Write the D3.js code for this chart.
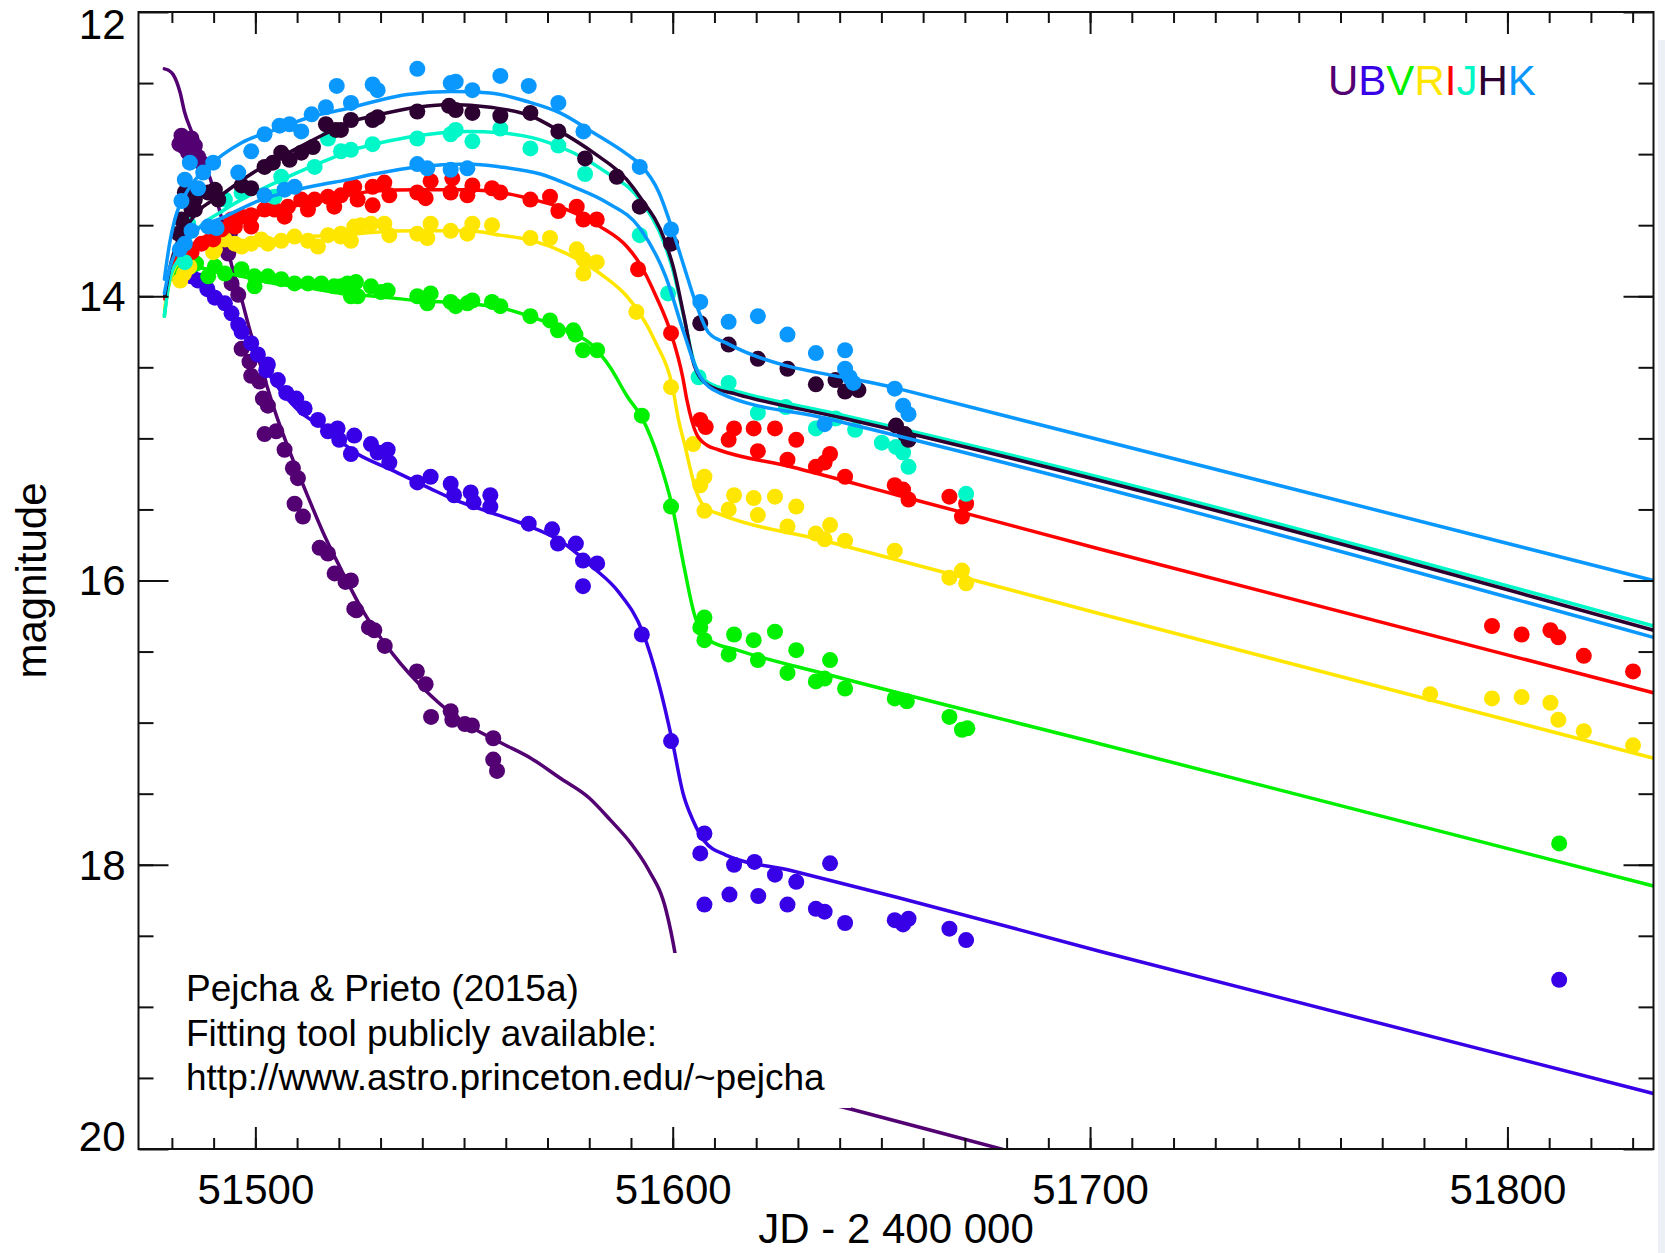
<!DOCTYPE html>
<html>
<head>
<meta charset="utf-8">
<script src="https://cdn.jsdelivr.net/npm/d3@7"></script>
<style>
  body { margin: 0; background: #fff; }
  svg { display: block; }
  text { font-family: "Liberation Sans", Arial, Helvetica, sans-serif; fill: #000; }
</style>
</head>
<body>
<svg id="chart" width="1665" height="1253"></svg>
<script>
// ---------------- DATA ----------------
const bandNames = ["U", "B", "V", "R", "I", "J", "H", "K"];
const bandColors = { U: "#530073", B: "#3700E6", V: "#00F000", R: "#FFE600", I: "#FF0000", J: "#00F8C8", H: "#2C0030", K: "#0A98FF" };

const xDomain = [51472, 51835];
const yDomain = [12, 20];
const xMajorTicks = [51500, 51600, 51700, 51800];
const xMinorTicks = [51480,51490,51500,51510,51520,51530,51540,51550,51560,51570,51580,51590,51600,51610,51620,51630,51640,51650,51660,51670,51680,51690,51700,51710,51720,51730,51740,51750,51760,51770,51780,51790,51800,51810,51820,51830];
const yMajorTicks = [12, 14, 16, 18, 20];
const yMinorTicks = [12.5,13,13.5,14,14.5,15,15.5,16,16.5,17,17.5,18,18.5,19,19.5];

const xTitle = "JD - 2 400 000";
const yTitle = "magnitude";
const noteLines = ["Pejcha & Prieto (2015a)", "Fitting tool publicly available:", "http://www.astro.princeton.edu/~pejcha"];

// observed points [JD-2400000, mag]
const U_points = [[51481.8,12.93],[51482.3,12.87],[51483.0,12.95],[51483.9,12.99],[51484.7,12.89],[51485.5,12.94],[51486.3,13.02],[51487.1,13.06],[51493.5,13.70],[51493.9,13.56],[51493.9,13.65],[51494.3,13.91],[51495.9,13.99],[51496.7,14.37],[51498.6,14.46],[51499.0,14.56],[51501.0,14.60],[51501.8,14.72],[51503.0,14.77],[51502.2,14.97],[51505.0,14.95],[51507.0,15.08],[51509.0,15.21],[51510.2,15.28],[51509.4,15.46],[51511.4,15.55],[51515.4,15.77],[51517.4,15.81],[51519.0,15.95],[51521.6,16.01],[51522.9,16.00],[51523.7,16.20],[51524.2,16.21],[51527.2,16.33],[51528.5,16.35],[51531.0,16.46],[51538.7,16.64],[51540.8,16.73],[51542.1,16.96],[51546.8,16.92],[51547.2,16.98],[51550.2,17.01],[51551.9,17.02],[51557.0,17.11],[51557.0,17.26],[51557.9,17.34]];
const B_points = [[51484.7,13.86],[51486.3,13.89],[51488.5,13.95],[51490.3,14.01],[51492.7,14.05],[51494.3,14.12],[51495.9,14.20],[51496.7,14.25],[51499.0,14.33],[51500.6,14.41],[51503.0,14.48],[51502.6,14.52],[51505.4,14.59],[51507.4,14.68],[51509.8,14.72],[51511.8,14.79],[51515.0,14.87],[51517.4,14.95],[51519.7,14.93],[51520.1,15.01],[51523.7,14.98],[51522.9,15.11],[51527.7,15.04],[51529.3,15.10],[51531.7,15.08],[51532.1,15.17],[51538.8,15.31],[51542.0,15.27],[51546.8,15.32],[51547.6,15.40],[51551.6,15.38],[51552.3,15.45],[51556.3,15.40],[51556.3,15.48],[51565.5,15.60],[51571.1,15.64],[51572.5,15.74],[51576.8,15.74],[51578.5,15.86],[51581.9,15.88],[51578.5,16.04],[51592.6,16.38],[51599.6,17.13],[51607.6,17.78],[51606.6,17.92],[51607.6,18.28],[51614.7,18.00],[51613.6,18.21],[51619.6,17.98],[51620.5,18.22],[51624.5,18.07],[51627.5,18.28],[51629.6,18.12],[51634.3,18.31],[51636.4,18.33],[51637.7,17.99],[51641.3,18.41],[51653.2,18.39],[51655.2,18.42],[51656.5,18.38],[51666.3,18.45],[51670.3,18.53],[51812.4,18.81]];
const V_points = [[51481.6,13.86],[51484.5,13.79],[51485.8,13.77],[51488.7,13.86],[51490.3,13.79],[51492.7,13.84],[51496.7,13.81],[51499.8,13.86],[51499.8,13.93],[51503.0,13.86],[51506.2,13.88],[51509.4,13.91],[51512.6,13.91],[51515.8,13.91],[51518.9,13.93],[51520.5,13.93],[51522.1,13.91],[51522.9,14.00],[51524.1,13.90],[51524.5,14.00],[51527.7,13.93],[51530.1,13.97],[51531.7,13.96],[51538.8,14.00],[51541.2,14.05],[51542.0,13.98],[51546.8,14.04],[51548.0,14.07],[51550.8,14.05],[51552.0,14.03],[51556.7,14.04],[51558.7,14.07],[51565.9,14.14],[51570.6,14.17],[51572.5,14.24],[51576.2,14.24],[51576.7,14.27],[51578.5,14.38],[51581.9,14.38],[51592.6,14.84],[51599.6,15.48],[51607.6,16.26],[51606.6,16.33],[51607.6,16.42],[51614.7,16.38],[51613.4,16.52],[51619.4,16.42],[51620.4,16.56],[51624.5,16.36],[51627.5,16.65],[51629.6,16.49],[51634.3,16.71],[51636.4,16.69],[51637.7,16.56],[51641.3,16.76],[51653.2,16.83],[51656.1,16.85],[51666.3,16.96],[51669.3,17.05],[51670.6,17.04],[51812.4,17.85]];
const R_points = [[51482.0,13.89],[51482.9,13.84],[51483.9,13.80],[51484.2,13.79],[51489.9,13.69],[51490.3,13.67],[51492.7,13.60],[51495.1,13.63],[51496.7,13.65],[51499.0,13.63],[51501.4,13.60],[51503.0,13.63],[51506.2,13.61],[51509.4,13.58],[51512.6,13.61],[51515.0,13.65],[51517.4,13.57],[51520.5,13.58],[51520.5,13.56],[51522.9,13.61],[51523.7,13.51],[51525.3,13.50],[51527.7,13.49],[51530.9,13.49],[51532.1,13.57],[51538.8,13.56],[51541.2,13.59],[51542.0,13.49],[51546.8,13.54],[51550.8,13.56],[51552.0,13.49],[51556.7,13.50],[51565.9,13.59],[51570.6,13.59],[51577.0,13.67],[51578.6,13.74],[51581.8,13.76],[51578.6,13.84],[51591.3,14.11],[51599.6,14.64],[51604.9,15.04],[51607.6,15.27],[51606.6,15.33],[51607.6,15.51],[51614.7,15.40],[51613.4,15.50],[51619.4,15.42],[51620.4,15.54],[51624.5,15.41],[51627.5,15.62],[51629.6,15.48],[51634.3,15.67],[51636.4,15.71],[51637.7,15.61],[51641.3,15.72],[51653.2,15.79],[51666.3,15.98],[51669.3,15.93],[51670.3,16.02],[51781.5,16.80],[51796.3,16.83],[51803.4,16.82],[51810.3,16.86],[51812.2,16.98],[51818.3,17.06],[51830.1,17.16]];
const I_points = [[51482.8,13.74],[51484.7,13.69],[51487.1,13.63],[51489.9,13.60],[51491.9,13.53],[51494.3,13.46],[51495.1,13.51],[51496.7,13.44],[51499.0,13.43],[51499.0,13.51],[51502.2,13.39],[51504.6,13.39],[51507.0,13.44],[51507.8,13.37],[51511.0,13.32],[51512.6,13.39],[51514.2,13.32],[51517.4,13.30],[51518.9,13.37],[51520.5,13.29],[51522.9,13.23],[51523.7,13.23],[51524.5,13.32],[51528.1,13.23],[51528.1,13.36],[51530.9,13.20],[51532.1,13.29],[51538.8,13.27],[51540.8,13.31],[51542.0,13.19],[51546.8,13.27],[51547.2,13.17],[51550.8,13.29],[51552.0,13.22],[51556.7,13.24],[51558.7,13.27],[51565.9,13.32],[51570.6,13.30],[51572.6,13.40],[51577.0,13.37],[51578.6,13.46],[51581.8,13.46],[51591.7,13.81],[51599.6,14.26],[51606.6,14.87],[51607.9,14.92],[51613.4,15.01],[51614.7,14.93],[51619.4,14.93],[51620.4,15.09],[51624.5,14.93],[51627.5,15.15],[51629.6,15.01],[51634.3,15.20],[51636.4,15.17],[51637.7,15.11],[51641.3,15.27],[51653.2,15.33],[51655.2,15.36],[51656.5,15.43],[51666.3,15.41],[51670.3,15.46],[51669.3,15.55],[51796.3,16.32],[51803.4,16.38],[51810.3,16.35],[51812.2,16.40],[51818.3,16.53],[51830.1,16.64]];
const J_points = [[51483.1,13.76],[51483.9,13.49],[51492.7,13.32],[51496.7,13.27],[51504.6,13.30],[51506.2,13.16],[51514.2,13.09],[51517.4,12.89],[51520.5,12.98],[51522.9,12.97],[51528.1,12.93],[51538.8,12.89],[51546.8,12.86],[51548.0,12.83],[51552.0,12.91],[51558.7,12.82],[51565.9,12.96],[51572.6,12.94],[51579.0,13.14],[51592.1,13.57],[51598.9,13.98],[51606.2,14.57],[51613.4,14.61],[51620.4,14.82],[51627.1,14.78],[51634.3,14.93],[51639.0,14.86],[51643.7,14.94],[51650.1,15.03],[51653.5,15.06],[51655.2,15.10],[51656.5,15.20],[51670.3,15.39]];
const H_points = [[51481.6,13.56],[51482.3,13.46],[51483.1,13.27],[51484.7,13.39],[51485.5,13.32],[51485.5,13.39],[51488.7,13.27],[51490.3,13.25],[51491.1,13.32],[51496.7,13.22],[51499.0,13.24],[51502.2,13.09],[51504.2,13.06],[51506.2,12.99],[51508.2,13.04],[51511.0,12.99],[51513.8,12.95],[51516.9,12.79],[51519.3,12.83],[51520.5,12.83],[51522.9,12.76],[51528.1,12.76],[51529.3,12.74],[51538.8,12.70],[51546.4,12.66],[51548.0,12.69],[51552.0,12.71],[51558.7,12.73],[51565.9,12.71],[51572.6,12.84],[51579.0,13.03],[51586.6,13.16],[51592.1,13.37],[51599.6,13.63],[51606.6,14.19],[51613.4,14.34],[51620.4,14.44],[51627.5,14.51],[51634.3,14.62],[51639.0,14.59],[51641.3,14.67],[51644.5,14.66],[51653.5,14.91],[51655.6,14.97],[51656.5,15.01]];
const K_points = [[51482.3,13.33],[51483.1,13.18],[51484.3,13.06],[51486.3,13.24],[51487.5,13.13],[51489.9,13.06],[51495.9,13.13],[51499.0,12.98],[51502.2,12.86],[51505.8,12.80],[51508.2,12.79],[51511.0,12.84],[51513.5,12.72],[51516.9,12.67],[51519.5,12.52],[51522.9,12.64],[51528.1,12.51],[51529.3,12.55],[51538.8,12.40],[51546.8,12.50],[51548.0,12.49],[51552.0,12.55],[51558.7,12.45],[51565.5,12.52],[51572.6,12.64],[51578.6,12.84],[51592.1,13.09],[51599.6,13.53],[51606.6,14.04],[51613.4,14.18],[51620.4,14.14],[51627.5,14.27],[51634.3,14.40],[51641.3,14.38],[51641.3,14.51],[51642.4,14.57],[51643.3,14.61],[51653.2,14.65],[51655.2,14.77],[51656.5,14.83]];
const K2_points = [[51481.9,13.67],[51483.1,13.63],[51484.7,13.54],[51488.7,13.51],[51490.7,13.52],[51502.2,13.29],[51507.0,13.25],[51509.4,13.23],[51538.8,13.07],[51541.2,13.10],[51546.8,13.11],[51550.8,13.10],[51636.4,14.90]];

// model curves [JD-2400000, mag]
const U_model = [[51478.2,12.40],[51479.2,12.41],[51480.3,12.44],[51482.0,12.57],[51483.0,12.70],[51484.7,12.84],[51486.7,12.99],[51489.5,13.20],[51491.9,13.45],[51494.3,13.78],[51496.7,14.02],[51498.5,14.22],[51501.4,14.50],[51505.4,14.87],[51509.4,15.18],[51512.6,15.41],[51516.5,15.68],[51520.5,15.92],[51525.3,16.19],[51533.0,16.52],[51541.7,16.80],[51550.0,17.00],[51558.7,17.14],[51566.0,17.25],[51573.0,17.39],[51580.0,17.53],[51585.2,17.69],[51590.0,17.85],[51594.1,18.03],[51598.4,18.32],[51600.6,18.63],[51602.5,19.00],[51605.0,19.30],[51610.0,19.48],[51642.8,19.72],[51681.3,20.02],[51700.0,20.16]];
const B_model = [[51482.5,13.80],[51484.7,13.86],[51489.5,13.98],[51492.7,14.07],[51496.7,14.24],[51500.6,14.43],[51505.4,14.64],[51510.2,14.80],[51516.5,14.93],[51524.5,15.11],[51532.5,15.22],[51541.7,15.35],[51548.4,15.44],[51556.3,15.52],[51564.0,15.60],[51573.0,15.72],[51581.0,15.91],[51587.0,16.08],[51592.9,16.37],[51596.7,16.73],[51599.9,17.13],[51602.5,17.50],[51604.9,17.69],[51607.5,17.83],[51612.6,17.93],[51628.3,18.04],[51653.9,18.23],[51702.5,18.61],[51835.0,19.61]];
const V_model = [[51478.2,14.14],[51479.1,13.93],[51480.5,13.82],[51482.3,13.78],[51488.7,13.81],[51496.7,13.86],[51504.6,13.91],[51512.6,13.94],[51520.5,13.98],[51528.5,14.00],[51538.8,14.03],[51550.8,14.05],[51558.7,14.08],[51566.6,14.15],[51574.6,14.24],[51580.9,14.35],[51585.0,14.50],[51589.0,14.70],[51592.9,14.87],[51596.7,15.15],[51599.9,15.48],[51602.7,15.90],[51605.2,16.24],[51607.0,16.37],[51608.7,16.42],[51615.5,16.49],[51636.9,16.66],[51702.5,17.15],[51835.0,18.15]];
const R_model = [[51478.3,14.08],[51479.5,13.90],[51480.7,13.80],[51484.0,13.70],[51488.7,13.65],[51496.7,13.62],[51504.6,13.60],[51512.6,13.58],[51520.5,13.57],[51528.5,13.55],[51538.8,13.54],[51550.8,13.54],[51558.7,13.57],[51566.6,13.61],[51574.6,13.70],[51582.6,13.84],[51589.0,14.00],[51592.1,14.12],[51596.0,14.33],[51599.9,14.63],[51601.4,14.87],[51603.0,15.06],[51604.1,15.20],[51605.5,15.36],[51606.6,15.44],[51608.5,15.50],[51610.9,15.53],[51636.4,15.72],[51701.9,16.23],[51835.0,17.25]];
const I_model = [[51478.3,14.02],[51479.5,13.85],[51480.7,13.74],[51484.7,13.64],[51492.7,13.51],[51500.6,13.43],[51508.6,13.37],[51516.5,13.32],[51520.5,13.30],[51528.5,13.26],[51538.8,13.25],[51550.8,13.25],[51558.7,13.27],[51566.6,13.32],[51574.6,13.39],[51582.6,13.51],[51589.0,13.65],[51592.1,13.77],[51596.0,14.00],[51599.7,14.27],[51602.4,14.57],[51603.4,14.73],[51605.7,14.97],[51608.3,15.05],[51610.9,15.08],[51628.3,15.20],[51653.9,15.40],[51702.5,15.78],[51835.0,16.79]];
const J_model = [[51478.2,14.14],[51479.5,13.88],[51481.6,13.74],[51484.7,13.58],[51492.7,13.39],[51500.6,13.26],[51508.6,13.15],[51516.5,13.05],[51524.5,12.96],[51530.0,12.92],[51538.8,12.87],[51550.8,12.84],[51558.7,12.85],[51568.3,12.90],[51576.2,12.99],[51584.2,13.13],[51592.1,13.32],[51598.0,13.63],[51600.1,13.82],[51602.7,14.15],[51605.2,14.47],[51608.7,14.61],[51615.4,14.67],[51641.2,14.84],[51835.0,16.32]];
const H_model = [[51478.3,14.00],[51479.5,13.80],[51480.7,13.67],[51484.7,13.46],[51492.7,13.27],[51500.6,13.11],[51508.6,12.98],[51516.5,12.86],[51522.0,12.78],[51528.5,12.73],[51538.8,12.67],[51546.8,12.65],[51556.3,12.67],[51565.9,12.73],[51573.0,12.84],[51581.0,12.99],[51589.0,13.18],[51592.1,13.30],[51598.0,13.60],[51600.1,13.79],[51602.7,14.14],[51605.2,14.49],[51608.7,14.63],[51615.4,14.69],[51641.2,14.86],[51835.0,16.35]];
const K_model = [[51478.2,13.88],[51479.5,13.62],[51480.7,13.46],[51483.9,13.25],[51488.7,13.09],[51496.7,12.92],[51504.6,12.83],[51514.2,12.73],[51520.5,12.69],[51536.4,12.58],[51546.8,12.56],[51556.3,12.57],[51565.1,12.63],[51573.0,12.71],[51581.0,12.85],[51589.0,13.00],[51592.1,13.07],[51596.7,13.27],[51599.9,13.53],[51602.7,13.79],[51605.2,14.02],[51608.7,14.26],[51612.9,14.33],[51654.0,14.65],[51835.0,16.00]];
const K2_model = [[51478.2,13.98],[51479.5,13.80],[51480.7,13.70],[51484.7,13.56],[51492.7,13.44],[51500.6,13.33],[51508.6,13.26],[51516.5,13.21],[51520.5,13.19],[51528.5,13.14],[51538.8,13.09],[51550.8,13.07],[51558.7,13.09],[51568.3,13.14],[51576.2,13.23],[51584.2,13.34],[51592.1,13.52],[51598.3,13.86],[51602.7,14.26],[51606.1,14.54],[51611.2,14.68],[51636.9,14.86],[51835.0,16.40]];

// draw order per series
const seriesList = [
  { band: "U", pts: U_points, model: U_model },
  { band: "B", pts: B_points, model: B_model },
  { band: "V", pts: V_points, model: V_model },
  { band: "R", pts: R_points, model: R_model },
  { band: "I", pts: I_points, model: I_model },
  { band: "J", pts: J_points, model: J_model },
  { band: "H", pts: H_points, model: H_model },
  { band: "K", pts: K2_points, model: K2_model },
  { band: "K", pts: K_points, model: K_model }
];

// ---------------- LAYOUT ----------------
const svg = d3.select("#chart");
const L = 138.5, R = 1653.5, T = 12, B = 1149;
const x = d3.scaleLinear().domain(xDomain).range([L, R]);
const y = d3.scaleLinear().domain(yDomain).range([T, B]);
const FONT = "\"Liberation Sans\", Arial, Helvetica, sans-serif";

svg.append("rect").attr("width", 1665).attr("height", 1253).attr("fill", "#fff");
svg.append("rect").attr("x", 1658).attr("y", 40).attr("width", 7).attr("height", 1213).attr("fill", "#eef0f8");

svg.append("defs").append("clipPath").attr("id", "plotclip")
  .append("rect").attr("x", L).attr("y", T).attr("width", R - L).attr("height", B - T);

const plot = svg.append("g").attr("clip-path", "url(#plotclip)");
const line = d3.line().x(d => x(d[0])).y(d => y(d[1])).curve(d3.curveMonotoneX);

seriesList.forEach(s => {
  const col = bandColors[s.band];
  plot.append("g").selectAll("circle").data(s.pts).join("circle")
    .attr("cx", d => x(d[0])).attr("cy", d => y(d[1])).attr("r", 8)
    .attr("fill", col);
  plot.append("path").datum(s.model).attr("d", line)
    .attr("fill", "none").attr("stroke", col).attr("stroke-width", 3.5)
    .attr("stroke-linejoin", "round").attr("stroke-linecap", "round");
});

// annotation box (white background) and text
svg.append("rect").attr("x", 150).attr("y", 953).attr("width", 701).attr("height", 155).attr("fill", "#fff");
const note = svg.append("text").attr("font-size", 37);
noteLines.forEach((t, i) => {
  note.append("tspan").attr("x", 186).attr("y", 1001 + i * 44.5).text(t);
});

// legend
const leg = svg.append("text").attr("x", 1328).attr("y", 95).attr("font-size", 42);
bandNames.forEach(b => leg.append("tspan").attr("fill", bandColors[b]).text(b));

// ---------------- AXES ----------------
const axisColor = "#111";
function styleAxis(g) {
  g.select(".domain").remove();
  g.selectAll(".tick line").attr("stroke", axisColor).attr("stroke-width", 2);
  g.selectAll(".tick text").attr("fill", "#000").attr("font-size", 42).attr("font-family", FONT);
}
// bottom
svg.append("g").attr("transform", `translate(0,${B})`)
  .call(d3.axisBottom(x).tickValues(xMinorTicks).tickSize(-11).tickFormat("")).call(styleAxis);
svg.append("g").attr("transform", `translate(0,${B})`)
  .call(d3.axisBottom(x).tickValues(xMajorTicks).tickSize(-22).tickPadding(25).tickFormat(d3.format("d"))).call(styleAxis);
// top
svg.append("g").attr("transform", `translate(0,${T})`)
  .call(d3.axisTop(x).tickValues(xMinorTicks).tickSize(-11).tickFormat("")).call(styleAxis);
svg.append("g").attr("transform", `translate(0,${T})`)
  .call(d3.axisTop(x).tickValues(xMajorTicks).tickSize(-22).tickFormat("")).call(styleAxis);
// left
svg.append("g").attr("transform", `translate(${L},0)`)
  .call(d3.axisLeft(y).tickValues(yMinorTicks).tickSize(-15).tickFormat("")).call(styleAxis);
const yl = svg.append("g").attr("transform", `translate(${L},0)`)
  .call(d3.axisLeft(y).tickValues(yMajorTicks).tickSize(-30).tickPadding(13).tickFormat(d3.format("d"))).call(styleAxis);
yl.selectAll(".tick text").attr("dy", d => d === yDomain[0] ? "0.64em" : (d === yDomain[1] ? "0.03em" : "0.34em"));
// right
svg.append("g").attr("transform", `translate(${R},0)`)
  .call(d3.axisRight(y).tickValues(yMinorTicks).tickSize(-15).tickFormat("")).call(styleAxis);
svg.append("g").attr("transform", `translate(${R},0)`)
  .call(d3.axisRight(y).tickValues(yMajorTicks).tickSize(-30).tickFormat("")).call(styleAxis);

// frame
svg.append("rect").attr("x", L).attr("y", T).attr("width", R - L).attr("height", B - T)
  .attr("fill", "none").attr("stroke", axisColor).attr("stroke-width", 2);

// titles
svg.append("text").attr("x", (L + R) / 2).attr("y", 1243).attr("text-anchor", "middle")
  .attr("font-size", 42).text(xTitle);
svg.append("text").attr("transform", `translate(46,${(T + B) / 2}) rotate(-90)`)
  .attr("text-anchor", "middle").attr("font-size", 42).text(yTitle);
</script>
</body>
</html>
